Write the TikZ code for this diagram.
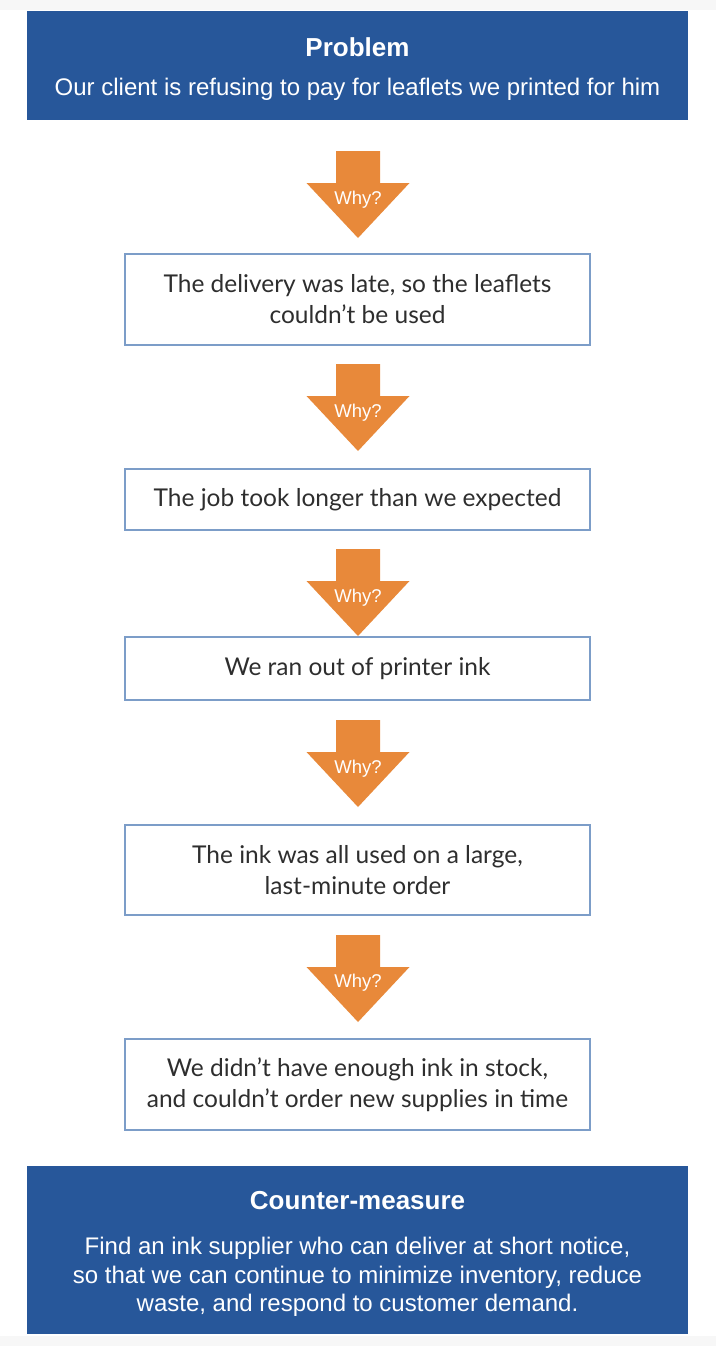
\documentclass[tikz,border=0pt]{standalone}
\usepackage{fontspec}
\setmainfont{Lato}
\newfontfamily\bluefont{Liberation Sans}
\definecolor{probblue}{HTML}{27579A}
\definecolor{boxline}{HTML}{7C9DC8}
\definecolor{whyorange}{HTML}{E8893A}
\definecolor{txtgray}{HTML}{2E2E2E}
\definecolor{stripgray}{HTML}{F7F7F7}
\tikzset{
  bluebox/.style={fill=probblue, draw=none, minimum width=661pt, align=center, text=white, inner sep=0pt},
  whybox/.style={draw=boxline, line width=1.1pt, fill=white, minimum width=465pt, align=center, text=txtgray, inner sep=0pt, font=\fontsize{24.5}{31}\selectfont},
  whytext/.style={text=white, font=\bluefont\fontsize{18.5}{20}\selectfont, inner sep=0pt},
  bluetitle/.style={text=white, font=\bluefont\bfseries\fontsize{26}{30}\selectfont, inner sep=0pt},
  bluesub/.style={text=white, font=\bluefont\fontsize{24}{28.5}\selectfont, align=center, inner sep=0pt},
  pics/whyarrow/.style={code={
    \fill[whyorange] (-22,0) -- (22,0) -- (22,32) -- (51.5,32) -- (0,87) -- (-51.5,32) -- (-22,32) -- cycle;
  }}
}
\begin{document}
\begin{tikzpicture}[x=1pt,y=-1pt]
\useasboundingbox (0,0) rectangle (716,1346);
\fill[white] (0,0) rectangle (716,1346);
\fill[stripgray] (0,0) rectangle (716,10);
\fill[stripgray] (0,1336) rectangle (716,1346);
% top problem box
\node[bluebox, minimum height=109pt] (prob) at (357.5,65.5) {};
\node[bluetitle] (probt) at (357.5,47) {Problem};
\node[bluesub] (probs) at (357.5,89) {Our client is refusing to pay for leaflets we printed for him};
% why boxes
\node[whybox, minimum height=91pt] (b1) at (357.5,299.5) {The delivery was late, so the leaflets\\couldn’t be used};
\node[whybox, minimum height=61pt] (b2) at (357.5,499.5) {The job took longer than we expected};
\node[whybox, minimum height=63pt] (b3) at (357.5,668.5) {We ran out of printer ink};
\node[whybox, minimum height=90pt] (b4) at (357.5,870) {The ink was all used on a large,\\last-minute order};
\node[whybox, minimum height=91pt] (b5) at (357.5,1084.5) {We didn’t have enough ink in stock,\\and couldn’t order new supplies in time};
% arrows
\pic at (358,151) {whyarrow};
\node[whytext] (w1) at (358,200) {Why?};
\pic at (358,364) {whyarrow};
\node[whytext] (w2) at (358,413) {Why?};
\pic at (358,549) {whyarrow};
\node[whytext] (w3) at (358,598) {Why?};
\pic at (358,720) {whyarrow};
\node[whytext] (w4) at (358,769) {Why?};
\pic at (358,935) {whyarrow};
\node[whytext] (w5) at (358,983) {Why?};
% bottom counter-measure box
\node[bluebox, minimum height=168pt] (cm) at (357.5,1250) {};
\node[bluetitle] (cmt) at (357.5,1201) {Counter-measure};
\node[bluesub] (cms) at (357.5,1277) {Find an ink supplier who can deliver at short notice,\\so that we can continue to minimize inventory, reduce\\waste, and respond to customer demand.};
\end{tikzpicture}
\end{document}
